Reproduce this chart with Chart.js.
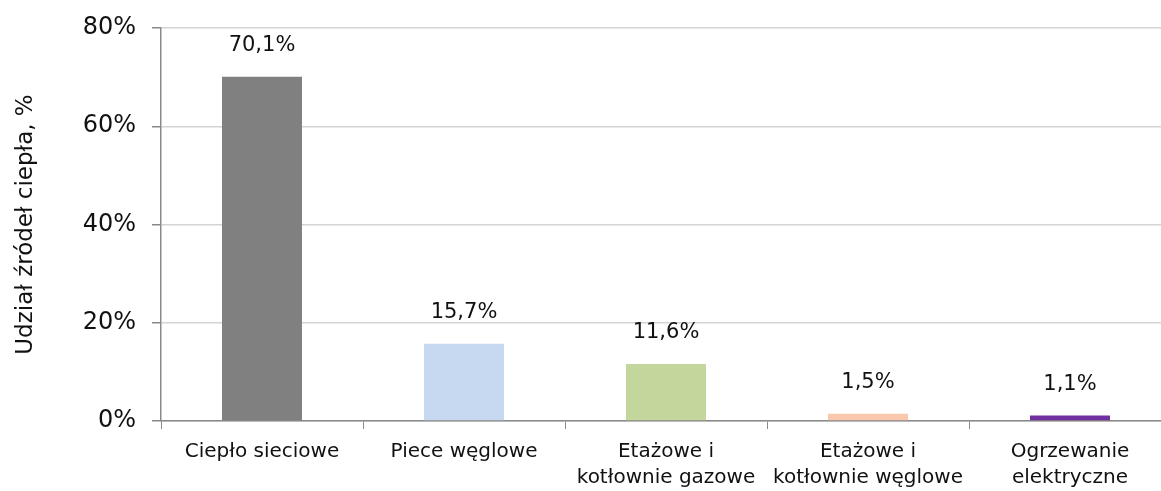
<!DOCTYPE html>
<html>
<head>
<meta charset="utf-8">
<script src="https://cdn.jsdelivr.net/npm/chart.js@4"></script>
<style>
  html, body { margin: 0; padding: 0; background: #fff; overflow: hidden; }
  #wrap { width: 1171px; height: 491px; }
</style>
</head>
<body>
<div id="wrap"><canvas id="heatChart"></canvas></div>
<script>
// Heat source shares
const categories = [
    'Ciepło sieciowe',
    'Piece węglowe',
    ['Etażowe i', 'kotłownie gazowe'],
    ['Etażowe i', 'kotłownie węglowe'],
    ['Ogrzewanie', 'elektryczne']
];
const shares = [70.1, 15.7, 11.6, 1.5, 1.1];
const barColors = ['#808080', '#c6d9f1', '#c3d69b', '#f9c8ad', '#7030a0'];
const yTicks = [0, 20, 40, 60, 80];

const fontFamily = '"DejaVu Sans", Verdana, sans-serif';

// Draw value labels above each bar
const valueLabels = {
    id: 'valueLabels',
    afterDatasetsDraw(chart) {
        const ctx = chart.ctx;
        const meta = chart.getDatasetMeta(0);
        ctx.save();
        ctx.font = '21px ' + fontFamily;
        ctx.fillStyle = '#111';
        ctx.textAlign = 'center';
        ctx.textBaseline = 'middle';
        meta.data.forEach((bar, i) => {
            const txt = shares[i].toFixed(1).replace('.', ',') + '%';
            ctx.fillText(txt, bar.x, bar.y - 31);
        });
        ctx.restore();
    }
};

const ctx = document.getElementById('heatChart').getContext('2d');
new Chart(ctx, {
    type: 'bar',
    data: {
        labels: categories,
        datasets: [{
            data: shares,
            backgroundColor: barColors,
            barPercentage: 0.8,
            categoryPercentage: 0.495
        }]
    },
    options: {
        responsive: true,
        maintainAspectRatio: false,
        animation: false,
        layout: { padding: { top: 28, right: 0, left: 0, bottom: 0 } },
        plugins: {
            legend: { display: false },
            tooltip: { enabled: false }
        },
        scales: {
            x: {
                afterFit: scale => { scale.height = 70; },
                grid: {
                    offset: true,
                    drawOnChartArea: false,
                    drawTicks: true,
                    tickLength: 8,
                    color: '#898989'
                },
                border: { color: '#898989', width: 1.5 },
                ticks: {
                    color: '#111',
                    font: { family: fontFamily, size: 20, lineHeight: 1.3 },
                    padding: 10,
                    maxRotation: 0,
                    autoSkip: false
                }
            },
            y: {
                min: 0,
                max: 80,
                afterFit: scale => { scale.width = 161; },
                afterBuildTicks: scale => { scale.ticks = yTicks.map(v => ({ value: v })); },
                grid: {
                    color: '#d4d4d4',
                    lineWidth: 1.5,
                    tickColor: '#898989',
                    tickLength: 9
                },
                border: { color: '#898989', width: 1.5 },
                ticks: {
                    color: '#111',
                    font: { family: fontFamily, size: 24, lineHeight: 1 },
                    padding: 16,
                    callback: v => v + '%'
                },
                title: {
                    display: true,
                    text: 'Udział źródeł ciepła, %',
                    color: '#111',
                    font: { family: fontFamily, size: 23 },
                    padding: { top: 12, bottom: 0 }
                }
            }
        }
    },
    plugins: [valueLabels]
});
</script>
</body>
</html>
